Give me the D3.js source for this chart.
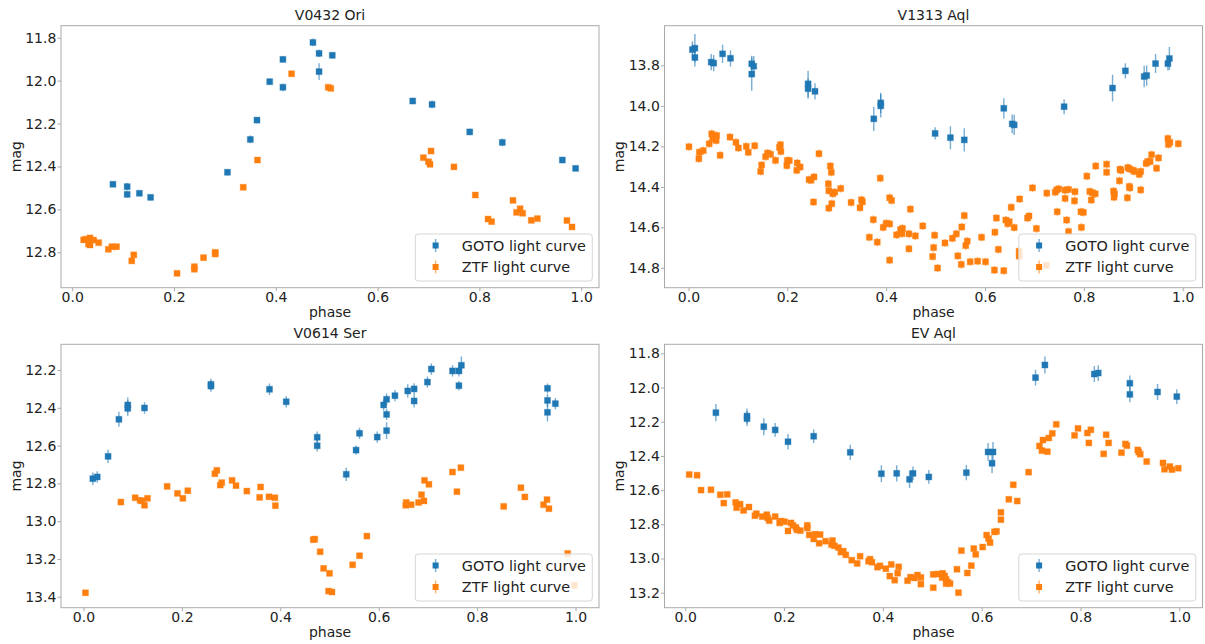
<!DOCTYPE html>
<html lang="en">
    <head>
        <meta charset="utf-8">
        <script src="https://d3js.org/d3.v7.min.js"></script>
        <title>Light curves</title>
        <style>
            body { margin: 0; background: #fff; }
            text { font-family: "DejaVu Sans", sans-serif; fill: #222; }
            .axis path, .axis line { stroke: #aaa; }
            .axis text { font-size: 14px; fill: #222; }
        </style>
    </head>
    <body>
        <div id="chart"></div>
        <script>

            // [phase, mag, err]
            var v0432Goto = [
                [0.080,12.483,0.012],[0.108,12.494,0.018],[0.108,12.530,0.015],[0.132,12.525,0.012],[0.154,12.544,0.015],
                [0.305,12.427,0.015],[0.350,12.274,0.018],[0.363,12.184,0.015],[0.388,12.005,0.015],[0.414,11.901,0.015],
                [0.414,12.031,0.018],[0.473,11.822,0.018],[0.485,11.873,0.018],[0.485,11.958,0.039],[0.511,11.882,0.015],
                [0.669,12.095,0.015],[0.707,12.111,0.018],[0.781,12.239,0.015],[0.845,12.288,0.018],[0.963,12.370,0.015],
                [0.989,12.409,0.012]
            ];
            // [phase, mag]
            var v0432Ztf = [
                [0.0225,12.742],[0.027,12.739],[0.032,12.761],[0.035,12.733],[0.035,12.766],[0.042,12.743],[0.052,12.755],
                [0.071,12.786],[0.078,12.774],[0.087,12.774],[0.117,12.840],[0.121,12.812],[0.206,12.898],[0.240,12.879],
                [0.240,12.867],[0.258,12.825],[0.281,12.808],[0.281,12.800],[0.336,12.497],[0.364,12.370],[0.431,11.968],
                [0.503,12.031],[0.508,12.036],[0.690,12.359],[0.700,12.378],[0.703,12.390],[0.705,12.328],[0.750,12.402],
                [0.792,12.533],[0.817,12.645],[0.824,12.657],[0.866,12.558],[0.873,12.614],[0.880,12.597],[0.885,12.618],
                [0.902,12.651],[0.914,12.643],[0.972,12.652],[0.982,12.682]
            ];

            var v1313Goto = [
                [0.008,13.722,0.041],[0.013,13.715,0.070],[0.013,13.761,0.045],[0.046,13.784,0.040],[0.051,13.789,0.040],
                [0.069,13.743,0.045],[0.085,13.765,0.040],[0.128,13.792,0.040],[0.132,13.804,0.050],[0.128,13.843,0.082],
                [0.242,13.891,0.065],[0.242,13.915,0.050],[0.256,13.928,0.040],[0.375,14.064,0.060],[0.389,13.985,0.050],
                [0.389,14.000,0.057],[0.499,14.136,0.030],[0.530,14.157,0.057],[0.558,14.168,0.057],[0.638,14.012,0.050],
                [0.655,14.089,0.046],[0.659,14.094,0.050],[0.760,14.004,0.037],[0.858,13.912,0.066],[0.884,13.827,0.038],
                [0.922,13.855,0.053],[0.927,13.850,0.050],[0.945,13.791,0.047],[0.970,13.791,0.034],[0.973,13.766,0.057]
            ];
            var v1313Ztf = [
                [0.001,14.202],[0.021,14.261],[0.022,14.229],[0.030,14.221],[0.042,14.187],[0.047,14.138],[0.049,14.161],
                [0.057,14.146],[0.056,14.171],[0.064,14.244],[0.084,14.154],[0.096,14.180],[0.101,14.208],[0.117,14.200],
                [0.121,14.229],[0.134,14.197],[0.146,14.324],[0.148,14.292],[0.156,14.251],[0.160,14.233],[0.166,14.239],
                [0.176,14.269],[0.184,14.205],[0.186,14.192],[0.187,14.225],[0.199,14.295],[0.200,14.270],[0.204,14.270],
                [0.220,14.282],[0.219,14.318],[0.226,14.302],[0.244,14.364],[0.248,14.367],[0.254,14.351],[0.253,14.475],
                [0.264,14.236],[0.283,14.385],[0.284,14.419],[0.287,14.297],[0.289,14.328],[0.290,14.483],[0.284,14.505],
                [0.292,14.434],[0.296,14.426],[0.308,14.408],[0.329,14.477],[0.347,14.503],[0.350,14.464],[0.352,14.474],
                [0.366,14.649],[0.374,14.562],[0.382,14.673],[0.388,14.357],[0.394,14.600],[0.400,14.580],[0.407,14.583],
                [0.407,14.454],[0.411,14.467],[0.407,14.762],[0.421,14.637],[0.429,14.611],[0.433,14.605],[0.432,14.631],
                [0.446,14.632],[0.449,14.510],[0.446,14.706],[0.459,14.642],[0.474,14.593],[0.498,14.639],[0.496,14.700],
                [0.494,14.744],[0.504,14.801],[0.519,14.677],[0.534,14.654],[0.542,14.632],[0.553,14.598],[0.558,14.542],
                [0.561,14.690],[0.564,14.668],[0.545,14.741],[0.552,14.783],[0.570,14.770],[0.585,14.767],[0.593,14.649],
                [0.601,14.770],[0.620,14.624],[0.623,14.554],[0.619,14.811],[0.627,14.709],[0.638,14.814],[0.642,14.564],
                [0.646,14.582],[0.649,14.572],[0.653,14.501],[0.659,14.601],[0.670,14.460],[0.686,14.554],[0.689,14.544],
                [0.696,14.405],[0.704,14.606],[0.669,14.718],[0.669,14.742],[0.724,14.788],[0.725,14.431],[0.742,14.426],
                [0.745,14.415],[0.749,14.410],[0.746,14.523],[0.762,14.457],[0.762,14.416],[0.769,14.413],[0.765,14.564],
                [0.769,14.621],[0.781,14.469],[0.782,14.424],[0.795,14.600],[0.794,14.523],[0.799,14.526],[0.806,14.347],
                [0.812,14.423],[0.815,14.465],[0.817,14.429],[0.823,14.434],[0.824,14.297],[0.846,14.288],[0.846,14.328],
                [0.860,14.421],[0.861,14.451],[0.862,14.434],[0.872,14.370],[0.873,14.313],[0.875,14.318],[0.889,14.305],
                [0.892,14.311],[0.893,14.405],[0.892,14.398],[0.888,14.454],[0.900,14.318],[0.902,14.324],[0.912,14.338],
                [0.915,14.324],[0.915,14.415],[0.926,14.284],[0.929,14.275],[0.934,14.275],[0.937,14.241],[0.947,14.308],
                [0.951,14.257],[0.970,14.161],[0.971,14.190],[0.974,14.180],[0.991,14.187]
            ];

            var v0614Goto = [
                [0.019,12.775,0.033],[0.028,12.766,0.030],[0.050,12.657,0.035],[0.072,12.461,0.040],[0.090,12.385,0.040],
                [0.090,12.403,0.040],[0.124,12.401,0.030],[0.259,12.276,0.030],[0.259,12.285,0.030],[0.378,12.302,0.030],
                [0.412,12.368,0.030],[0.475,12.556,0.030],[0.475,12.601,0.030],[0.534,12.752,0.035],[0.554,12.624,0.025],
                [0.561,12.535,0.030],[0.597,12.555,0.030],[0.610,12.385,0.030],[0.616,12.355,0.030],[0.616,12.435,0.030],
                [0.616,12.521,0.044],[0.633,12.336,0.030],[0.659,12.311,0.035],[0.672,12.300,0.030],[0.672,12.364,0.035],
                [0.699,12.264,0.030],[0.707,12.195,0.030],[0.750,12.205,0.030],[0.763,12.205,0.030],[0.763,12.283,0.025],
                [0.768,12.175,0.046],[0.943,12.297,0.025],[0.943,12.361,0.035],[0.943,12.424,0.048],[0.959,12.378,0.030]
            ];
            var v0614Ztf = [
                [0.004,13.379],[0.076,12.899],[0.105,12.876],[0.115,12.890],[0.119,12.893],[0.124,12.916],[0.130,12.879],
                [0.170,12.816],[0.191,12.853],[0.202,12.879],[0.212,12.839],[0.267,12.749],[0.271,12.731],[0.278,12.809],
                [0.281,12.796],[0.302,12.784],[0.310,12.812],[0.332,12.841],[0.358,12.874],[0.360,12.819],[0.377,12.871],
                [0.389,12.876],[0.390,12.918],[0.467,13.098],[0.470,13.095],[0.481,13.162],[0.488,13.250],[0.500,13.276],
                [0.498,13.370],[0.505,13.375],[0.547,13.231],[0.561,13.183],[0.576,13.079],[0.655,12.916],[0.656,12.901],
                [0.666,12.913],[0.681,12.901],[0.692,12.893],[0.687,12.860],[0.693,12.784],[0.702,12.805],[0.750,12.740],
                [0.759,12.844],[0.767,12.717],[0.854,12.922],[0.889,12.823],[0.897,12.872],[0.935,12.913],[0.942,12.886],
                [0.946,12.934],[0.984,13.171],[0.998,13.340]
            ];

            var evAqlGoto = [
                [0.062,12.147,0.050],[0.125,12.167,0.045],[0.125,12.182,0.045],[0.159,12.229,0.050],[0.182,12.248,0.040],
                [0.208,12.317,0.045],[0.260,12.285,0.040],[0.334,12.379,0.045],[0.397,12.504,0.050],[0.428,12.502,0.048],
                [0.454,12.537,0.050],[0.461,12.502,0.040],[0.493,12.523,0.040],[0.569,12.498,0.045],[0.613,12.377,0.052],
                [0.623,12.377,0.058],[0.621,12.443,0.058],[0.709,11.942,0.046],[0.728,11.868,0.050],[0.828,11.921,0.047],
                [0.836,11.915,0.046],[0.900,11.975,0.046],[0.900,12.040,0.046],[0.956,12.026,0.047],[0.995,12.053,0.043]
            ];
            var evAqlZtf = [
                [0.008,12.509],[0.024,12.513],[0.032,12.600],[0.052,12.598],[0.071,12.627],[0.085,12.625],[0.078,12.676],
                [0.102,12.672],[0.104,12.703],[0.111,12.682],[0.118,12.719],[0.129,12.699],[0.141,12.750],[0.144,12.738],
                [0.156,12.755],[0.165,12.744],[0.167,12.763],[0.170,12.779],[0.182,12.755],[0.191,12.792],[0.194,12.781],
                [0.201,12.785],[0.208,12.839],[0.214,12.792],[0.218,12.806],[0.224,12.818],[0.226,12.833],[0.233,12.837],
                [0.247,12.806],[0.247,12.822],[0.251,12.862],[0.260,12.886],[0.263,12.858],[0.271,12.911],[0.273,12.860],
                [0.284,12.899],[0.296,12.919],[0.298,12.895],[0.302,12.926],[0.310,12.936],[0.315,12.963],[0.320,12.957],
                [0.325,12.979],[0.337,13.010],[0.348,13.029],[0.354,12.987],[0.371,13.016],[0.374,13.004],[0.378,13.022],
                [0.389,13.051],[0.394,13.043],[0.406,13.060],[0.414,13.103],[0.417,13.035],[0.424,13.127],[0.430,13.086],
                [0.432,13.049],[0.450,13.130],[0.456,13.109],[0.464,13.114],[0.470,13.097],[0.477,13.150],[0.477,13.111],
                [0.502,13.093],[0.502,13.171],[0.511,13.091],[0.521,13.087],[0.525,13.102],[0.520,13.112],[0.528,13.122],
                [0.532,13.139],[0.528,13.147],[0.536,13.147],[0.550,13.063],[0.553,13.200],[0.559,12.954],[0.571,13.085],
                [0.579,13.042],[0.584,12.942],[0.588,12.976],[0.602,12.933],[0.610,12.863],[0.614,12.884],[0.617,12.907],
                [0.626,12.845],[0.630,12.841],[0.639,12.730],[0.639,12.773],[0.655,12.654],[0.672,12.664],[0.664,12.569],
                [0.695,12.495],[0.717,12.342],[0.722,12.369],[0.724,12.307],[0.733,12.375],[0.736,12.295],[0.743,12.268],
                [0.751,12.215],[0.788,12.280],[0.795,12.239],[0.814,12.266],[0.817,12.324],[0.821,12.247],[0.852,12.276],
                [0.857,12.324],[0.847,12.388],[0.883,12.381],[0.891,12.330],[0.894,12.340],[0.916,12.365],[0.921,12.390],
                [0.918,12.377],[0.934,12.433],[0.967,12.441],[0.970,12.478],[0.981,12.462],[0.985,12.480],[0.998,12.472]
            ];

            var titles = ["V0432 Ori", "V1313 Aql", "V0614 Ser", "EV Aql"];
            var gotoSets = [v0432Goto, v1313Goto, v0614Goto, evAqlGoto];
            var ztfSets = [v0432Ztf, v1313Ztf, v0614Ztf, evAqlZtf];
            var ztfErrs = [0.010, 0.020, 0.012, 0.008];
            var xTicks = [0, 0.2, 0.4, 0.6, 0.8, 1.0];
            var yTickSets = [
                [11.8, 12.0, 12.2, 12.4, 12.6, 12.8],
                [13.8, 14.0, 14.2, 14.4, 14.6, 14.8],
                [12.2, 12.4, 12.6, 12.8, 13.0, 13.2, 13.4],
                [11.8, 12.0, 12.2, 12.4, 12.6, 12.8, 13.0, 13.2]
            ];
            var legendLabels = ["GOTO light curve", "ZTF light curve"];

            var blue = "#1f77b4", orange = "#ff7f0e";

            // axes boxes in pixels + visible domains
            var panels = [
                {left: 61,    right: 599,    top: 25.7,  bottom: 287.7, xd: [-0.022, 1.035],   yd: [11.744, 12.965]},
                {left: 664.5, right: 1202.5, top: 25.7,  bottom: 287.7, xd: [-0.0485, 1.040],  yd: [13.604, 14.898]},
                {left: 61,    right: 599,    top: 344.3, bottom: 607.7, xd: [-0.0457, 1.0477], yd: [12.064, 13.458]},
                {left: 664.5, right: 1202.5, top: 344.3, bottom: 607.7, xd: [-0.042, 1.047],   yd: [11.747, 13.288]}
            ];

            var svg = d3.select("#chart")
                .append("svg")
                    .attr("width", 1205)
                    .attr("height", 644);

            var ms = 6; // marker size

            function drawSeries(g, data, x, y, color, errConst) {
                var s = g.append("g");
                s.selectAll(".eb")
                    .data(data)
                    .enter()
                    .append("line")
                        .attr("x1", d => x(d[0]))
                        .attr("x2", d => x(d[0]))
                        .attr("y1", d => y(d[1] - (d.length > 2 ? d[2] : errConst)))
                        .attr("y2", d => y(d[1] + (d.length > 2 ? d[2] : errConst)))
                        .attr("stroke", color)
                        .attr("stroke-width", 1.4)
                        .attr("stroke-opacity", 0.6)
                s.selectAll(".pt")
                    .data(data)
                    .enter()
                    .append("rect")
                        .attr("x", d => x(d[0]) - ms / 2)
                        .attr("y", d => y(d[1]) - ms / 2)
                        .attr("width", ms)
                        .attr("height", ms)
                        .attr("fill", color)
                        .attr("stroke", color)
                        .attr("stroke-opacity", 0.35)
                        .attr("stroke-width", 1)
            }

            panels.forEach(function(p, i) {
                var x = d3.scaleLinear().domain(p.xd).range([p.left, p.right]);
                var y = d3.scaleLinear().domain(p.yd).range([p.top, p.bottom]);
                var g = svg.append("g");

                var clipId = "clip" + i;
                g.append("clipPath").attr("id", clipId)
                    .append("rect")
                        .attr("x", p.left).attr("y", p.top)
                        .attr("width", p.right - p.left).attr("height", p.bottom - p.top);

                var plot = g.append("g").attr("clip-path", "url(#" + clipId + ")");
                drawSeries(plot, gotoSets[i], x, y, blue, 0);
                drawSeries(plot, ztfSets[i], x, y, orange, ztfErrs[i]);

                // axes
                g.append("g")
                    .attr("class", "axis")
                    .attr("transform", "translate(0," + p.bottom + ")")
                    .call(d3.axisBottom(x).tickValues(xTicks).tickFormat(d3.format(".1f")).tickSize(3.5).tickPadding(1.2))
                    .call(a => a.select(".domain").remove());
                g.append("g")
                    .attr("class", "axis")
                    .attr("transform", "translate(" + p.left + ",0)")
                    .call(d3.axisLeft(y).tickValues(yTickSets[i]).tickFormat(d3.format(".1f")).tickSize(3.5).tickPadding(1.2))
                    .call(a => a.select(".domain").remove());

                g.append("rect")
                    .attr("x", p.left).attr("y", p.top)
                    .attr("width", p.right - p.left).attr("height", p.bottom - p.top)
                    .attr("fill", "none")
                    .attr("stroke", "#aaa")
                    .attr("stroke-width", 1);

                // title and labels
                g.append("text")
                    .attr("x", (p.left + p.right) / 2)
                    .attr("y", p.top - 6)
                    .attr("text-anchor", "middle")
                    .style("font-size", "14px")
                    .text(titles[i]);
                g.append("text")
                    .attr("x", (p.left + p.right) / 2)
                    .attr("y", p.bottom + 29.5)
                    .attr("text-anchor", "middle")
                    .style("font-size", "14px")
                    .text("phase");
                g.append("text")
                    .attr("transform", "translate(" + (p.left - 40.5) + "," + ((p.top + p.bottom) / 2) + ") rotate(-90)")
                    .attr("text-anchor", "middle")
                    .style("font-size", "14px")
                    .text("mag");

                // legend (lower right)
                var lw = 177, lh = 47;
                var lx = p.right - 6.7 - lw, ly = p.bottom - 6.7 - lh;
                var leg = g.append("g");
                leg.append("rect")
                    .attr("x", lx).attr("y", ly)
                    .attr("width", lw).attr("height", lh)
                    .attr("rx", 3)
                    .attr("fill", "#fff")
                    .attr("fill-opacity", 0.8)
                    .attr("stroke", "#d6d6d6");
                [blue, orange].forEach(function(c, k) {
                    var cy = ly + 11.5 + k * 21.5, cx = lx + 20.3;
                    leg.append("line")
                        .attr("x1", cx).attr("x2", cx)
                        .attr("y1", cy - 6.5).attr("y2", cy + 6.5)
                        .attr("stroke", c).attr("stroke-width", 1.4).attr("stroke-opacity", 0.6);
                    leg.append("rect")
                        .attr("x", cx - ms / 2).attr("y", cy - ms / 2)
                        .attr("width", ms).attr("height", ms)
                        .attr("fill", c);
                    leg.append("text")
                        .attr("x", lx + 46.5)
                        .attr("y", cy)
                        .attr("dy", "0.36em")
                        .style("font-size", "14.4px")
                        .text(legendLabels[k]);
                });
            });
        </script>
    </body>
</html>
